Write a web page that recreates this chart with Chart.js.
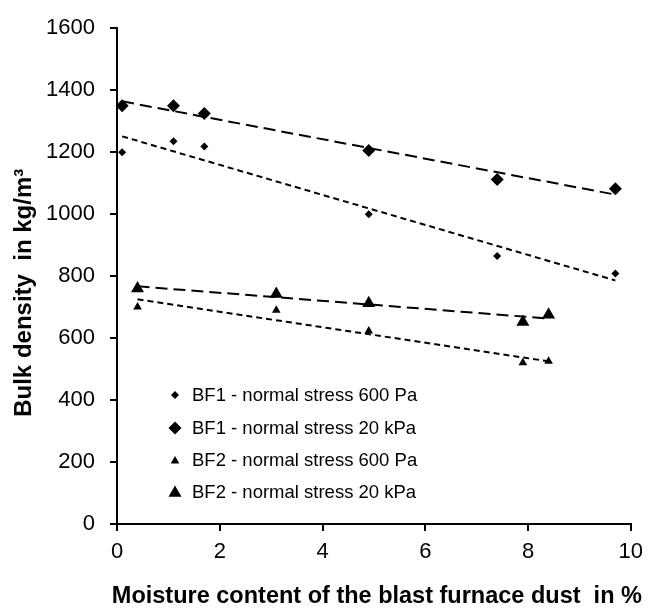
<!DOCTYPE html>
<html>
<head>
<meta charset="utf-8">
<script src="https://cdn.jsdelivr.net/npm/chart.js@4/dist/chart.umd.min.js"></script>
<style>
  html, body { margin: 0; padding: 0; background: #fff; }
</style>
</head>
<body>
<canvas id="chart" width="651" height="611"></canvas>
<script>
// measured values (moisture in %, bulk density in kg/m3)
const bf1Moisture = [0.1, 1.1, 1.7, 4.9, 7.4, 9.7];
const bf1Stress600 = [1200, 1235, 1218, 1000, 865, 808];
const bf1Stress20k = [1350, 1350, 1325, 1205, 1112, 1082];

const bf2Moisture = [0.4, 3.1, 4.9, 7.9, 8.4];
const bf2Stress600 = [700, 690, 623, 520, 525];
const bf2Stress20k = [760, 742, 712, 652, 675];

// trend line end points
const bf1TrendX = [0.1, 9.7];
const bf1Trend600 = [1251, 786];
const bf1Trend20k = [1364, 1063];
const bf2TrendX = [0.4, 8.4];
const bf2Trend600 = [725, 525];
const bf2Trend20k = [767, 663];

const legendLabels = [
  "BF1 - normal stress 600 Pa",
  "BF1 - normal stress 20 kPa",
  "BF2 - normal stress 600 Pa",
  "BF2 - normal stress 20 kPa"
];

const xTicks = [0, 2, 4, 6, 8, 10];
const yTicks = [0, 200, 400, 600, 800, 1000, 1200, 1400, 1600];

const xTitle = "Moisture content of the blast furnace dust  in %";
const yTitle = "Bulk density  in kg/m³";

const FONT = "'Liberation Sans', Arial, sans-serif";

function points(xs, ys) {
  return xs.map((x, i) => ({ x, y: ys[i] }));
}

function markerSet(label, xs, ys, style, radius) {
  return {
    label,
    data: points(xs, ys),
    pointStyle: style,
    pointRadius: radius,
    pointBackgroundColor: "#000",
    pointBorderColor: "#000",
    pointBorderWidth: 0,
    showLine: false,
    clip: false
  };
}

function trendSet(xs, ys, dash) {
  return {
    label: "trend",
    data: points(xs, ys),
    showLine: true,
    borderColor: "#000",
    borderWidth: 2,
    borderDash: dash,
    pointRadius: 0,
    fill: false,
    clip: false
  };
}

const markerStyles = [
  { style: "rectRot", r: 4 },
  { style: "rectRot", r: 6.5 },
  { style: "triangle", r: 5 },
  { style: "triangle", r: 7.5 }
];

function drawMarker(ctx, style, x, y, r) {
  ctx.beginPath();
  if (style === "rectRot") {
    ctx.moveTo(x, y - r);
    ctx.lineTo(x + r, y);
    ctx.lineTo(x, y + r);
    ctx.lineTo(x - r, y);
  } else {
    ctx.moveTo(x, y - r);
    ctx.lineTo(x + 0.866 * r, y + 0.5 * r);
    ctx.lineTo(x - 0.866 * r, y + 0.5 * r);
  }
  ctx.closePath();
  ctx.fill();
}

// legend inside the plot area (lower left) and the x title, which is
// wider than the plot area, so chart.js would squeeze it
const extras = {
  id: "extras",
  afterDraw(chart) {
    const { ctx, chartArea } = chart;
    const rows = [129, 96, 64, 32];
    ctx.save();
    ctx.fillStyle = "#000";
    ctx.font = "18.5px " + FONT;
    ctx.textBaseline = "middle";
    legendLabels.forEach((text, i) => {
      const y = chartArea.bottom - rows[i];
      const m = markerStyles[i];
      drawMarker(ctx, m.style, chartArea.left + 58, y + (m.style === "triangle" ? 1 : 0), m.r);
      ctx.fillText(text, chartArea.left + 75, y + 1);
    });

    ctx.font = "bold 23.5px " + FONT;
    ctx.textAlign = "center";
    ctx.fillText(xTitle, (chartArea.left + chartArea.right) / 2 + 3, chartArea.bottom + 73);
    ctx.restore();
  }
};

new Chart(document.getElementById("chart"), {
  type: "scatter",
  data: {
    datasets: [
      markerSet(legendLabels[0], bf1Moisture, bf1Stress600, "rectRot", 4),
      markerSet(legendLabels[1], bf1Moisture, bf1Stress20k, "rectRot", 6.5),
      markerSet(legendLabels[2], bf2Moisture, bf2Stress600, "triangle", 5),
      markerSet(legendLabels[3], bf2Moisture, bf2Stress20k, "triangle", 7.5),
      trendSet(bf1TrendX, bf1Trend600, [6, 4]),
      trendSet(bf1TrendX, bf1Trend20k, [12, 6]),
      trendSet(bf2TrendX, bf2Trend600, [6, 4]),
      trendSet(bf2TrendX, bf2Trend20k, [12, 6])
    ]
  },
  options: {
    responsive: false,
    animation: false,
    layout: { padding: { top: 20, right: 16, left: 0, bottom: 0 } },
    plugins: {
      legend: { display: false },
      tooltip: { enabled: false }
    },
    scales: {
      x: {
        type: "linear",
        min: 0,
        max: 10,
        afterFit(scale) { scale.height = 87; },
        afterBuildTicks(scale) { scale.ticks = xTicks.map(v => ({ value: v })); },
        border: { color: "#000", width: 2 },
        grid: { drawOnChartArea: false, drawTicks: true, tickLength: 7, color: "#000", lineWidth: 2 },
        ticks: {
          color: "#000",
          padding: 8,
          font: { family: FONT, size: 22 },
          callback: v => String(v)
        },
        title: { display: false }
      },
      y: {
        type: "linear",
        min: 0,
        max: 1600,
        afterFit(scale) { scale.width = 117; },
        afterBuildTicks(scale) { scale.ticks = yTicks.map(v => ({ value: v })); },
        border: { color: "#000", width: 2 },
        grid: { drawOnChartArea: false, drawTicks: true, tickLength: 7, color: "#000", lineWidth: 2 },
        ticks: {
          color: "#000",
          padding: 15,
          font: { family: FONT, size: 22 },
          callback: v => String(v)
        },
        title: {
          display: true,
          // trailing spaces push the centred title down, as in the original
          text: yTitle + "     ",
          color: "#000",
          padding: { top: 10, bottom: 0 },
          font: { family: FONT, size: 24, weight: "bold" }
        }
      }
    }
  },
  plugins: [extras]
});
</script>
</body>
</html>
